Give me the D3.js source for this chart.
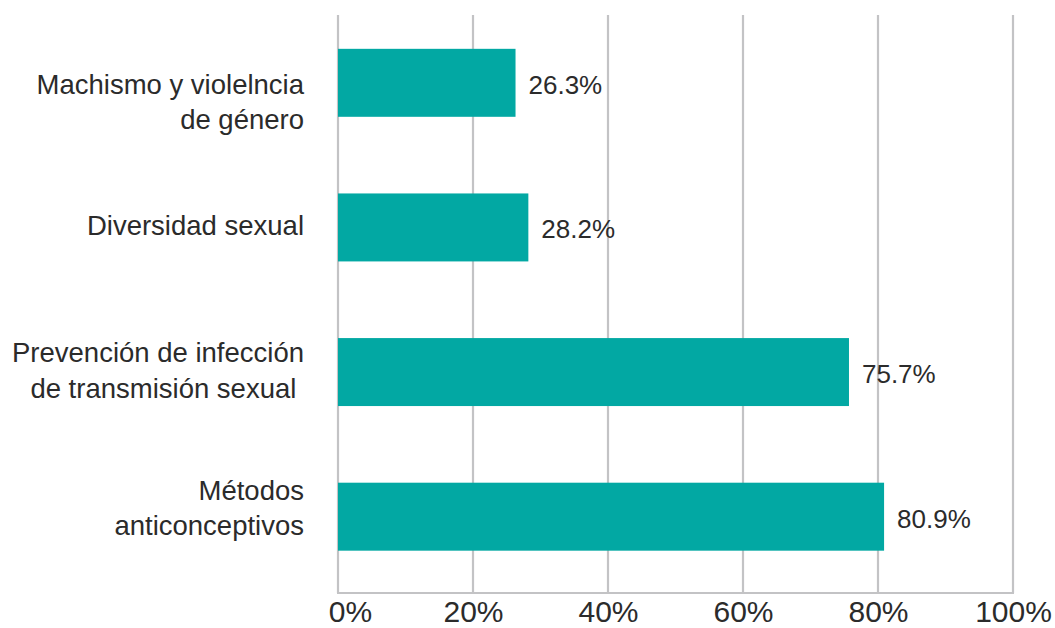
<!DOCTYPE html>
<html><head><meta charset="utf-8">
<script src="https://cdn.jsdelivr.net/npm/d3@7"></script>
<style>
html,body{margin:0;padding:0;background:#fff;}
svg{display:block;font-family:"Liberation Sans",Arial,sans-serif;}
</style></head>
<body><svg id="c" width="1055" height="628"></svg>
<script>
const categories = [
  ["Machismo y violelncia", "de género"],
  ["Diversidad sexual"],
  ["Prevención de infección", "de transmisión sexual "],
  ["Métodos", "anticonceptivos"]
];
const values = [26.3, 28.2, 75.7, 80.9];
const valueLabels = ["26.3%", "28.2%", "75.7%", "80.9%"];
const tickValues = [0, 20, 40, 60, 80, 100];
const tickLabels = ["0%", "20%", "40%", "60%", "80%", "100%"];

// layout: baseline offset of the first label line from the bar centre
const firstLineOffset = [11, 8, -10, -17];

const svg = d3.select("#c");
const x = d3.scaleLinear().domain([0, 100]).range([338, 1013]);
const y = d3.scaleBand().domain(d3.range(categories.length)).range([10.5, 589])
  .paddingInner(0.53).paddingOuter(0.265);

const gridColor = "#c3c3c5";
const textColor = "#2b2b2b";
const barColor = "#02a8a3";

// gridlines
svg.append("g").selectAll("line").data(tickValues).join("line")
  .attr("x1", d => x(d)).attr("x2", d => x(d))
  .attr("y1", 15).attr("y2", 593)
  .attr("stroke", gridColor).attr("stroke-width", 2.2);

// bars
svg.append("g").selectAll("rect").data(values).join("rect")
  .attr("x", x(0)).attr("y", (d, i) => y(i))
  .attr("width", d => x(d) - x(0)).attr("height", y.bandwidth())
  .attr("fill", barColor);

// baseline
svg.append("line").attr("x1", x(0) - 1).attr("x2", x(100) + 1)
  .attr("y1", 593).attr("y2", 593).attr("stroke", gridColor).attr("stroke-width", 2.2);

// x axis labels
const ax = svg.append("g").attr("transform", "translate(0,593)")
  .call(d3.axisBottom(x).tickValues(tickValues).tickSize(0).tickPadding(0)
    .tickFormat((d, i) => tickLabels[i]));
ax.select(".domain").remove();
ax.selectAll("text").attr("y", 0).attr("dy", null)
  .attr("transform", "translate(0,29)")
  .attr("font-size", 30).attr("fill", textColor)
  .attr("font-family", "Liberation Sans, Arial, sans-serif");
ax.selectAll("text").filter((d, i) => i === 0).attr("dx", 12);

// value labels
svg.append("g").selectAll("text").data(values).join("text")
  .attr("x", d => x(d) + 13)
  .attr("y", (d, i) => y(i) + y.bandwidth() / 2 + 11)
  .attr("font-size", 26).attr("fill", textColor)
  .text((d, i) => valueLabels[i]);

// category labels
const cat = svg.append("g").selectAll("text").data(categories).join("text")
  .attr("text-anchor", "end").attr("font-size", 27.5).attr("fill", textColor)
  .attr("xml:space", "preserve").style("white-space", "pre");
cat.each(function (lines, i) {
  const cy = y(i) + y.bandwidth() / 2;
  const lh = 35.5;
  d3.select(this).selectAll("tspan").data(lines).join("tspan")
    .attr("x", 304)
    .attr("y", (l, j) => cy + firstLineOffset[i] + j * lh)
    .text(l => l);
});
</script></body></html>
